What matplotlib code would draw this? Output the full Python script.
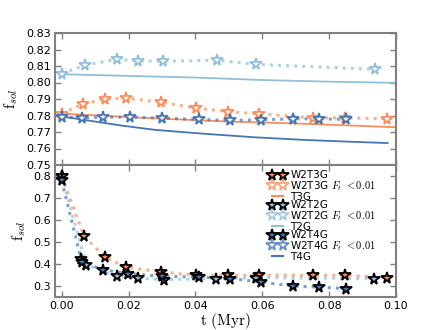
import matplotlib
matplotlib.use("Agg")
import matplotlib.pyplot as plt
from matplotlib.lines import Line2D
import numpy as np

plt.rcParams['mathtext.fontset'] = 'cm'

C3 = '#fc8d59'
C2 = '#91bfdb'
C4 = '#4575b4'

# ---- top panel: F_t < 0.01 runs (open stars) ----
t2_ft = [0.0, 0.007, 0.0164, 0.0229, 0.0303, 0.0465, 0.058, 0.0937]
f2_ft = [0.8054, 0.8105, 0.8141, 0.8131, 0.8129, 0.8135, 0.811, 0.808]
t3_ft = [0.0, 0.0065, 0.0129, 0.0192, 0.0296, 0.0403, 0.0497, 0.059, 0.0751, 0.0846, 0.0972]
f3_ft = [0.781, 0.7871, 0.790, 0.7906, 0.7881, 0.7845, 0.7824, 0.781, 0.7786, 0.7786, 0.778]
t4_ft = [0.0, 0.0062, 0.0124, 0.0204, 0.0301, 0.041, 0.0504, 0.0597, 0.0693, 0.0771, 0.085]
f4_ft = [0.779, 0.7786, 0.779, 0.779, 0.7784, 0.7776, 0.777, 0.7774, 0.778, 0.778, 0.7776]

# ---- top panel: theory curves ----
tT2 = [0.0, 0.02, 0.04, 0.06, 0.08, 0.1]
fT2 = [0.805, 0.804, 0.803, 0.8015, 0.8005, 0.7998]
tT3 = [0.0, 0.02, 0.0478, 0.0726, 0.1]
fT3 = [0.7812, 0.779, 0.7765, 0.775, 0.7729]
tT4 = [0.0, 0.0179, 0.0279, 0.0428, 0.0577, 0.0726, 0.0876, 0.0975]
fT4 = [0.7794, 0.7739, 0.7713, 0.7689, 0.7668, 0.7652, 0.764, 0.7633]

# ---- bottom panel: W2 runs (filled stars) ----
t3 = [0.0, 0.0067, 0.0129, 0.0192, 0.0296, 0.0403, 0.0497, 0.059, 0.0751, 0.0846, 0.0972]
f3 = [0.80, 0.526, 0.432, 0.386, 0.364, 0.349, 0.349, 0.349, 0.349, 0.349, 0.338]
t2 = [0.0, 0.0073, 0.0164, 0.0227, 0.0305, 0.0463, 0.058, 0.0935]
f2 = [0.80, 0.397, 0.345, 0.336, 0.329, 0.334, 0.338, 0.334]
t4 = [0.0, 0.0058, 0.0062, 0.0124, 0.0199, 0.030, 0.041, 0.0504, 0.0597, 0.0693, 0.0771, 0.085]
f4 = [0.78, 0.421, 0.409, 0.374, 0.356, 0.344, 0.341, 0.334, 0.318, 0.299, 0.295, 0.288]

fig, (ax1, ax2) = plt.subplots(2, 1, figsize=(4.4, 3.3), dpi=100, sharex=True)
fig.subplots_adjust(left=0.125, right=0.9, top=0.9, bottom=0.1, hspace=0)

ms = 8.5
mew = 1.3
dot = dict(ls=':', lw=2.2, alpha=0.7)

# top
ax1.plot(tT2, fT2, '-', color=C2, lw=1.3)
ax1.plot(tT3, fT3, '-', color=C3, lw=1.3)
ax1.plot(tT4, fT4, '-', color=C4, lw=1.3)
ax1.plot(t2_ft, f2_ft, color=C2, **dot)
ax1.plot(t3_ft, f3_ft, color=C3, **dot)
ax1.plot(t4_ft, f4_ft, color=C4, **dot)
ax1.plot(t2_ft, f2_ft, '*', ms=ms, mfc='white', mec=C2, mew=mew, ls='none')
ax1.plot(t3_ft, f3_ft, '*', ms=ms, mfc='white', mec=C3, mew=mew, ls='none')
ax1.plot(t4_ft, f4_ft, '*', ms=ms, mfc='white', mec=C4, mew=mew, ls='none')
ax1.set_ylim(0.75, 0.83)
ax1.set_yticks(np.arange(0.75, 0.8301, 0.01))
ax1.set_ylabel(r'$\mathrm{f}_{sol}$', fontsize=11)

# bottom
ax2.plot(t3, f3, color=C3, **dot)
ax2.plot(t2, f2, color=C2, **dot)
ax2.plot(t4, f4, color=C4, **dot)
h3, = ax2.plot(t3, f3, '*', ms=ms, mfc=C3, mec='black', mew=mew, ls='none', label='W2T3G')
h2, = ax2.plot(t2, f2, '*', ms=ms, mfc=C2, mec='black', mew=mew, ls='none', label='W2T2G')
h4, = ax2.plot(t4, f4, '*', ms=ms, mfc=C4, mec='black', mew=mew, ls='none', label='W2T4G')
ax2.set_ylim(0.25, 0.85)
ax2.set_yticks([0.3, 0.4, 0.5, 0.6, 0.7, 0.8])
ax2.set_xlim(-0.002, 0.1)
ax2.set_xticks([0.0, 0.02, 0.04, 0.06, 0.08, 0.10])
ax2.set_xticklabels(['0.00', '0.02', '0.04', '0.06', '0.08', '0.10'])
ax2.set_ylabel(r'$\mathrm{f}_{sol}$', fontsize=11)
ax2.set_xlabel(r'$\mathrm{t\ (Myr)}$', fontsize=11, labelpad=0)

def open_star(c):
    return Line2D([], [], marker='*', ms=ms, mfc='white', mec=c, mew=mew, ls='none', alpha=0.8)
def solid(c):
    return Line2D([], [], color=c, lw=1.5)
handles = [h3, open_star(C3), solid(C3), h2, open_star(C2), solid(C2), h4, open_star(C4), solid(C4)]
labels = ['W2T3G', r'W2T3G $F_t\ {<}0.01$', 'T3G', 'W2T2G', r'W2T2G $F_t\ {<}0.01$', 'T2G',
          'W2T4G', r'W2T4G $F_t\ {<}0.01$', 'T4G']
ax2.legend(handles, labels, loc='upper left', bbox_to_anchor=(0.605, 1.015), frameon=False,
           fontsize=7.5, numpoints=2, labelspacing=-0.12, handletextpad=0.4,
           handlelength=1.7, borderpad=0.2)

for ax in (ax1, ax2):
    for s in ax.spines.values():
        s.set_color('#808080')
        s.set_linewidth(1.5)
    ax.tick_params(direction='in', top=True, right=True, color='#808080',
                   labelsize=8, width=1, length=4, pad=3)
ax1.tick_params(labelbottom=False)

fig.savefig('out.png', dpi=100)
